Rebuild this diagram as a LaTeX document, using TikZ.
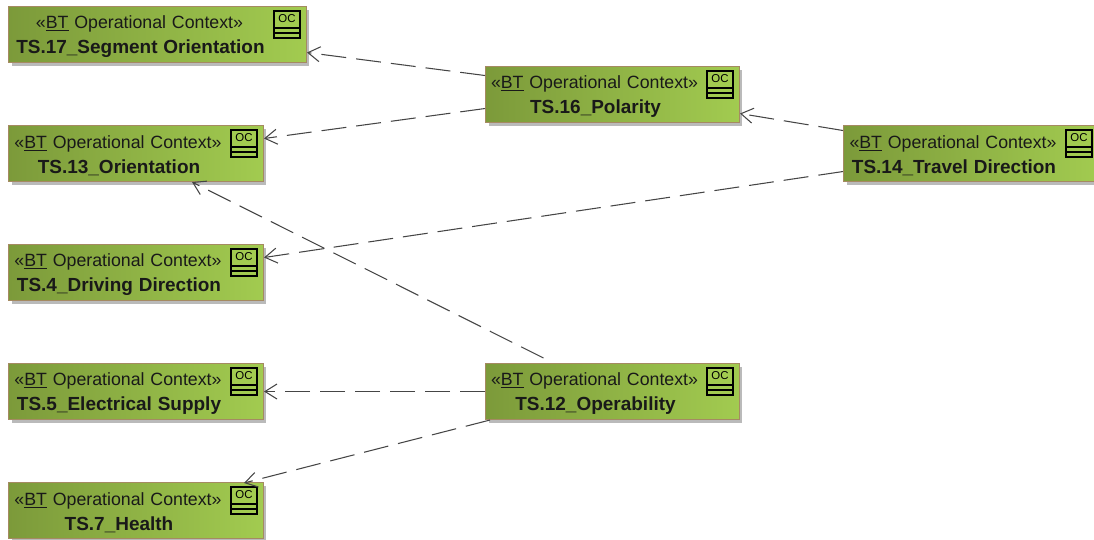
\documentclass[tikz,border=0pt]{standalone}
\usepackage{fontspec}
\setmainfont{Liberation Sans}
\usetikzlibrary{arrows.meta,shadows}
\definecolor{ctxdark}{HTML}{7C9A3A}
\definecolor{ctxlight}{HTML}{A2CB50}
\definecolor{ctxedge}{HTML}{A58A62}
\definecolor{linkgray}{HTML}{454545}
\newcommand{\ctxtext}[1]{\fontsize{10.1pt}{14.2pt}\selectfont\rule{0pt}{0.33cm}«\underline{BT} Operational Context»\hspace*{0.72cm}\mbox{}\\[0.08cm]\bfseries\fontsize{10.8pt}{14.2pt}\selectfont #1\hspace*{0.68cm}\mbox{}}
\tikzset{
context/.style={draw=ctxedge, line width=0.6pt, left color=ctxdark, right color=ctxlight, anchor=north west,
  minimum height=1.12cm, inner sep=0pt, text=black!90, align=center,
  drop shadow={shadow xshift=0.06cm, shadow yshift=-0.06cm, fill=black!45, opacity=0.6}},
link/.style={draw=linkgray, line width=0.6pt, dash pattern=on 0.5cm off 0.2cm, -{Straight Barb[length=0.24cm,width=0.3cm]}},
ocicon/.pic={
  \draw[line width=0.7pt, fill=ctxlight] (-33,5) rectangle (-7,32);
  \draw[line width=0.7pt] (-33,22) -- (-7,22);
  \draw[line width=0.7pt] (-33,27) -- (-7,27);
  \node[inner sep=0pt, font=\fontsize{6.5pt}{7pt}\selectfont] (tag) at (-20,13) {OC};
  }
}
\begin{document}
\begin{tikzpicture}[x=0.02cm, y=-0.02cm]
\useasboundingbox (0,0) rectangle (1094,540);
\node[context, text width=5.96cm] (segment) at (8,6) {\ctxtext{TS.17\_Segment Orientation}};
\node[context, text width=5.1cm] (orientation) at (8,125) {\ctxtext{TS.13\_Orientation}};
\node[context, text width=5.1cm] (driving) at (8,244) {\ctxtext{TS.4\_Driving Direction}};
\node[context, text width=5.1cm] (supply) at (8,363) {\ctxtext{TS.5\_Electrical Supply}};
\node[context, text width=5.1cm] (health) at (8,482) {\ctxtext{TS.7\_Health}};
\node[context, text width=5.08cm] (polarity) at (485,66) {\ctxtext{TS.16\_Polarity}};
\node[context, text width=5.08cm] (operability) at (485,363) {\ctxtext{TS.12\_Operability}};
\node[context, text width=5.1cm] (travel) at (843,125) {\ctxtext{TS.14\_Travel Direction}};
\pic (segment) at (segment.north east) {ocicon};
\pic (orientation) at (orientation.north east) {ocicon};
\pic (driving) at (driving.north east) {ocicon};
\pic (supply) at (supply.north east) {ocicon};
\pic (health) at (health.north east) {ocicon};
\pic (polarity) at (polarity.north east) {ocicon};
\pic (operability) at (operability.north east) {ocicon};
\pic (travel) at (travel.north east) {ocicon};
\draw[link] ([shift={(0,-19)}]polarity.west) -- ([shift={(0,18)}]segment.east);
\draw[link] ([shift={(0,14)}]polarity.west) -- ([shift={(0,-15)}]orientation.east);
\draw[link] ([shift={(0,-23)}]travel.west) -- ([shift={(0,19)}]polarity.east);
\draw[link] ([shift={(0,18)}]travel.west) -- ([shift={(0,-15)}]driving.east);
\draw[link] ([shift={(-69,-5)}]operability.north) -- ([shift={(56,0)}]orientation.south);
\draw[link] (operability.west) -- (supply.east);
\draw[link] ([shift={(5,0)}]operability.south west) -- ([shift={(-20,1)}]health.north east);
\end{tikzpicture}
\end{document}
